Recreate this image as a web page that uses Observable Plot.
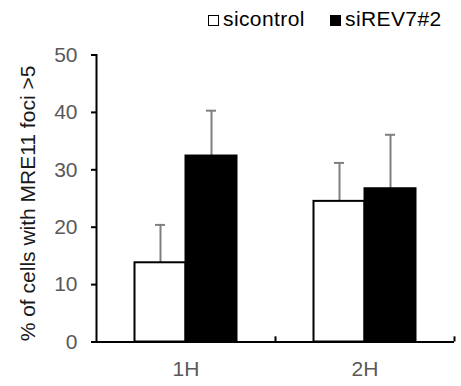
<!DOCTYPE html>
<html>
<head>
<meta charset="utf-8">
<script src="https://cdn.jsdelivr.net/npm/d3@7"></script>
<script src="https://cdn.jsdelivr.net/npm/@observablehq/plot@0.6"></script>
<style>
  body { margin: 0; background: #fff; font-family: "Liberation Sans", Arial, sans-serif; }
  #legend { position: relative; height: 40px; width: 461px; font-size: 21px; letter-spacing: 0.4px; color: #000; }
  .item { position: absolute; top: 7px; display: flex; align-items: center; }
  .sw { width: 9px; height: 9px; border: 1.5px solid #000; margin-right: 4px; margin-top: 2px; }
</style>
</head>
<body>
<div id="legend"></div>
<div id="chart"></div>
<script>
const categories = ["1H", "2H"];
const series = ["sicontrol", "siREV7#2"];
const sicontrol = [13.8, 24.5];
const sicontrolErr = [6.6, 6.7];
const siREV7 = [32.4, 26.7];
const siREV7Err = [7.9, 9.4];
const yTicks = [0, 10, 20, 30, 40, 50];
const yLabel = "% of cells with MRE11 foci >5";

const fills = ["#ffffff", "#000000"];
const valuesBySeries = [sicontrol, siREV7];
const errBySeries = [sicontrolErr, siREV7Err];

const data = [];
series.forEach((s, si) => categories.forEach((c, ci) => {
  data.push({cat: c, series: s, si, value: valuesBySeries[si][ci], err: errBySeries[si][ci]});
}));

const W = 461, H = 346, mL = 96, mR = 7, mT = 14.5, mB = 44.5;
const bw = (W - mL - mR) / categories.length; // band width
const barW = 51;
const off = [-barW / 2, barW / 2];

const marks = [];
series.forEach((s, si) => {
  const d = data.filter(r => r.si === si);
  marks.push(Plot.ruleX(d, {x: "cat", y1: "value", y2: r => r.value + r.err, dx: off[si], stroke: "#7f7f7f", strokeWidth: 2}));
  marks.push(Plot.tickY(d, {x: "cat", y: r => r.value + r.err, dx: off[si], stroke: "#7f7f7f", strokeWidth: 2, insetLeft: (bw - 10) / 2, insetRight: (bw - 10) / 2}));
  marks.push(Plot.barY(d, {x: "cat", y: "value", dx: off[si], fill: fills[si], stroke: "#000", strokeWidth: 2, insetLeft: (bw - barW) / 2, insetRight: (bw - barW) / 2}));
});

const chart = Plot.plot({
  width: W, height: H,
  marginLeft: mL, marginRight: mR, marginTop: mT, marginBottom: mB,
  style: {fontFamily: "Liberation Sans, Arial, sans-serif", background: "#fff"},
  x: {domain: categories, padding: 0, axis: null},
  y: {domain: [0, 50], axis: null},
  marks: [
    ...marks,
    Plot.axisY({ticks: yTicks, tickSize: 5, tickPadding: 14, fontSize: 21, color: "#595959", stroke: "#000", strokeWidth: 2, label: null}),
    Plot.axisX({tickSize: 0, tickPadding: 19, fontSize: 21, color: "#595959", label: null}),
    Plot.ruleY([0], {stroke: "#000", strokeWidth: 2}),
    Plot.frame({anchor: "left", stroke: "#000", strokeWidth: 2}),
    Plot.ruleX(categories, {x: d => d, dx: bw / 2, y1: 0, y2: 0.9, stroke: "#000", strokeWidth: 2}),
    Plot.text([yLabel], {text: d => d, frameAnchor: "left", textAnchor: "middle", dx: -68, dy: 5, rotate: -90, fontSize: 21, fill: "#1a1a1a"})
  ]
});
document.getElementById("chart").appendChild(chart);

// legend
const legend = document.getElementById("legend");
const lx = [208, 330];
series.forEach((s, i) => {
  const it = document.createElement("div");
  it.className = "item";
  it.style.left = lx[i] + "px";
  const sw = document.createElement("div");
  sw.className = "sw";
  sw.style.background = fills[i];
  const t = document.createElement("span");
  t.textContent = s;
  it.appendChild(sw); it.appendChild(t);
  legend.appendChild(it);
});
</script>
</body>
</html>
